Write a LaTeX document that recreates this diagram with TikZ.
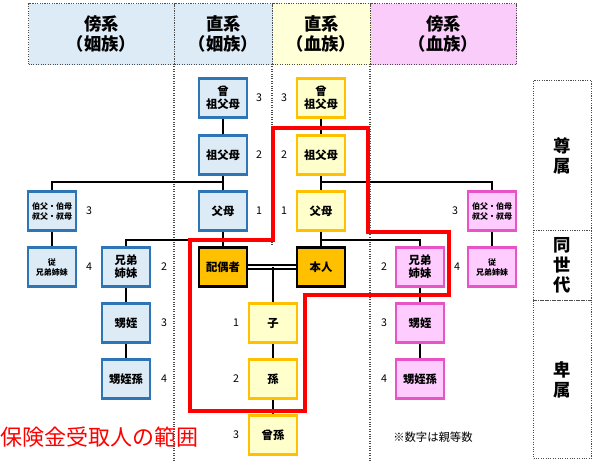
\documentclass[tikz,border=0pt]{standalone}
\usepackage{fontspec}
\setmainfont{Noto Sans CJK JP}
\begin{document}
\begin{tikzpicture}[x=0.75pt,y=-0.75pt,
  hdr/.style={draw=black!70,densely dotted,line width=0.8pt,align=center,font=\fontsize{13}{15}\selectfont\bfseries},
  box/.style={minimum width=36pt,minimum height=29pt,inner sep=0pt,line width=2pt,align=center,font=\fontsize{8.5}{10}\selectfont\bfseries},
  bl/.style={box,draw={rgb,255:red,46;green,117;blue,182},fill={rgb,255:red,221;green,235;blue,247}},
  ye/.style={box,draw={rgb,255:red,255;green,192;blue,0},fill={rgb,255:red,255;green,255;blue,204}},
  pk/.style={box,draw={rgb,255:red,232;green,84;blue,200},fill={rgb,255:red,255;green,204;blue,255}},
  me/.style={box,draw=black,fill={rgb,255:red,255;green,192;blue,0}},
  sm/.style={font=\fontsize{6}{7.5}\selectfont\bfseries},
  num/.style={font=\fontsize{8}{9}\selectfont},
  ln/.style={line width=1.8pt,black},
  dv/.style={densely dotted,black!70,line width=0.8pt}]
\useasboundingbox (0,0) rectangle (600,462);
% headers
\node[hdr,fill={rgb,255:red,221;green,235;blue,247},minimum width=109.5pt,minimum height=45.75pt,anchor=north west] (h1) at (28,3) {傍系\\（姻族）};
\node[hdr,fill={rgb,255:red,221;green,235;blue,247},minimum width=73.5pt,minimum height=45.75pt,anchor=north west] (h2) at (174,3) {直系\\（姻族）};
\node[hdr,fill={rgb,255:red,255;green,255;blue,216},minimum width=73.5pt,minimum height=45.75pt,anchor=north west] (h3) at (272,3) {直系\\（血族）};
\node[hdr,fill={rgb,255:red,249;green,204;blue,249},minimum width=109.5pt,minimum height=45.75pt,anchor=north west] (h4) at (370,3) {傍系\\（血族）};
\draw[dv] (174,64) -- (174,462);
\draw[dv] (272,64) -- (272,245);
\draw[dv] (370,64) -- (370,462);
% right boxes
\node[hdr,minimum width=43.5pt,minimum height=112.5pt,anchor=north west] (r1) at (533,80) {尊\\属};
\node[hdr,minimum width=43.5pt,minimum height=52.5pt,anchor=north west] (r2) at (533,230) {同\\世\\代};
\node[hdr,minimum width=43.5pt,minimum height=118.5pt,anchor=north west] (r3) at (533,300) {卑\\属};
% nodes
\node[bl] (a3) at (223,98) {曾\\祖父母};
\node[bl] (a2) at (223,155) {祖父母};
\node[bl] (a1) at (223,211) {父母};
\node[me] (sp) at (223,267) {配偶者};
\node[ye] (b3) at (321,98) {曾\\祖父母};
\node[ye] (b2) at (321,155) {祖父母};
\node[ye] (b1) at (321,211) {父母};
\node[me] (me) at (321,267) {本人};
\node[ye] (c1) at (273,323) {子};
\node[ye] (c2) at (273,379) {孫};
\node[ye] (c3) at (273,435) {曾孫};
\node[bl,sm] (lu) at (52,211) {伯父・伯母\\叔父・叔母};
\node[bl,sm] (lc) at (52,267) {従\\兄弟姉妹};
\node[bl] (ls) at (126,267) {兄弟\\姉妹};
\node[bl] (ln1) at (126,323) {甥姪};
\node[bl] (ln2) at (126,379) {甥姪孫};
\node[pk] (rs) at (420,267) {兄弟\\姉妹};
\node[pk] (rn1) at (420,323) {甥姪};
\node[pk] (rn2) at (420,379) {甥姪孫};
\node[pk,sm] (ru) at (492,211) {伯父・伯母\\叔父・叔母};
\node[pk,sm] (rc) at (492,267) {従\\兄弟姉妹};
% numbers
\foreach \x/\y/\t in {259/98/3,259/155/2,259/211/1,284/98/3,284/155/2,284/211/1,89/211/3,89/267/4,164/267/2,164/323/3,164/379/4,236/323/1,236/379/2,236/435/3,384/267/2,384/323/3,384/379/4,457/267/4,455/211/3}
  \node[num] at (\x,\y) {\t};
% connectors
\coordinate (j1) at (223,182); \coordinate (j2) at (321,182);
\coordinate (j3) at (223,240); \coordinate (j4) at (321,240);
\coordinate (m) at (273,267);
\draw[ln] (a3) -- (a2) -- (a1) -- (sp);
\draw[ln] (b3) -- (b2) -- (b1) -- (me);
\draw[ln] (j1) -| (lu); \draw[ln] (lu) -- (lc);
\draw[ln] (j2) -| (ru); \draw[ln] (ru) -- (rc);
\draw[ln] (j3) -| (ls); \draw[ln] (ls) -- (ln1) -- (ln2);
\draw[ln] (j4) -| (rs); \draw[ln] (rs) -- (rn1) -- (rn2);
\draw[black,line width=1pt,double=white,double distance=2pt] (sp) -- (me);
\draw[ln,line width=1.2pt] (m) -- (c1) -- (c2) -- (c3);
% red range
\draw[red,line width=2.3pt,line join=miter] (190,240) -- (273,240) -- (273,128) -- (368,128) -- (368,232) -- (449,232) -- (449,295) -- (305,295) -- (305,411) -- (190,411) -- cycle;
\node[red,anchor=west,inner sep=0pt,font=\fontsize{16.5}{18}\selectfont] (lbl) at (0,437) {保険金受取人の範囲};
\node[anchor=west,inner sep=0pt,font=\fontsize{8.5}{10}\selectfont] (note) at (393,437) {※数字は親等数};
\end{tikzpicture}
\end{document}
